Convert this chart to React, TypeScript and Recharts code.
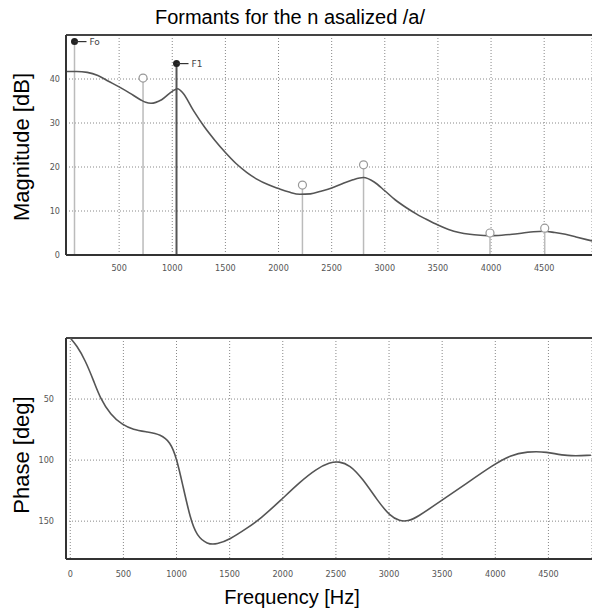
import React from 'react';
import {
  ComposedChart,
  Line,
  Scatter,
  XAxis,
  YAxis,
  CartesianGrid,
  ReferenceLine,
} from 'recharts';

// magnitude response (dB)
const MAG_HZ = [0, 100, 200, 300, 400, 500, 600, 700, 750, 800, 900, 1000, 1050, 1100, 1200, 1300, 1400, 1500, 1600, 1700, 1800, 1900, 2000, 2100, 2200, 2300, 2400, 2500, 2600, 2700, 2800, 2900, 3000, 3100, 3200, 3300, 3400, 3500, 3600, 3700, 3800, 3900, 4000, 4100, 4200, 4300, 4400, 4500, 4600, 4700, 4800, 4900, 4950];
const MAG_DB = [41.7, 41.7, 41.5, 40.8, 39.5, 38.2, 36.8, 35.3, 34.7, 34.5, 35.3, 37.2, 37.8, 36.8, 32.8, 29.2, 26.1, 23.3, 20.8, 18.8, 17.2, 16, 15.1, 14.3, 13.8, 13.9, 14.5, 15.2, 16.2, 17.1, 17.6, 16.6, 14.6, 12.5, 10.8, 9.3, 8, 6.8, 5.8, 5.1, 4.7, 4.5, 4.4, 4.5, 4.7, 5, 5.3, 5.4, 5.1, 4.7, 4.1, 3.5, 3.2];

// formant stems
const STEM_HZ = [80, 725, 1040, 2225, 2800, 3990, 4505];
const STEM_DB = [48.5, 40.2, 43.5, 15.9, 20.5, 5, 6.1];
const STEM_NAME = ['Fo', '', 'F1', '', '', '', ''];

// phase response (deg, drawn downwards)
const PH_HZ = [0, 60, 140, 220, 280, 380, 490, 590, 730, 850, 940, 1000, 1060, 1130, 1190, 1290, 1380, 1500, 1660, 1790, 1980, 2160, 2320, 2440, 2530, 2630, 2750, 2890, 3010, 3100, 3180, 3260, 3480, 3730, 3980, 4140, 4300, 4480, 4670, 4900];
const PH_DEG = [0, 6, 18, 35, 49, 63, 71, 75, 77, 79, 85, 98, 121, 148, 162, 169, 169, 165, 156, 148, 133, 118, 107, 102, 101, 104, 115, 133, 146, 150, 150, 147, 134, 119, 104, 96, 93, 93, 97, 96];

const MAG_X_TICKS = [500, 1000, 1500, 2000, 2500, 3000, 3500, 4000, 4500];
const MAG_Y_TICKS = [0, 10, 20, 30, 40];
const PH_X_TICKS = [0, 500, 1000, 1500, 2000, 2500, 3000, 3500, 4000, 4500];
const PH_Y_TICKS = [50, 100, 150];

const magData = MAG_HZ.map((hz, i) => ({ hz, db: MAG_DB[i] }));
const stemData = STEM_HZ.map((hz, i) => ({ hz, db: STEM_DB[i], name: STEM_NAME[i] }));
const phData = PH_HZ.map((hz, i) => ({ hz, deg: PH_DEG[i] }));

const tickStyle = { fontSize: 9, fill: '#555', fontFamily: '"DejaVu Sans Condensed", "DejaVu Sans", sans-serif' };
const bigText = { fontFamily: '"Liberation Sans", Arial, sans-serif', color: '#000' };

const StemHead = (props: any) => {
  const { cx, cy, payload } = props;
  if (payload.name) {
    return (
      <g>
        <circle cx={cx} cy={cy} r={3.5} fill="#222" />
        <line x1={cx} y1={cy} x2={cx + 12} y2={cy} stroke="#333" strokeWidth={1.2} />
        <text x={cx + 15} y={cy + 3} fontSize={9} fill="#444" fontFamily="DejaVu Sans, sans-serif">
          {payload.name}
        </text>
      </g>
    );
  }
  return <circle cx={cx} cy={cy} r={4} fill="#fff" stroke="#999" strokeWidth={1.2} />;
};

export default function App() {
  return (
    <div style={{ position: 'relative', width: 592, height: 616, background: '#fff', overflow: 'hidden' }}>
      <style>{'body{margin:0}'}</style>
      <div style={{ ...bigText, position: 'absolute', top: 5, left: 0, width: 580, textAlign: 'center', fontSize: 20, lineHeight: '24px' }}>
        Formants for the n asalized /a/
      </div>
      <div style={{ ...bigText, position: 'absolute', left: 22, top: 147, fontSize: 22, whiteSpace: 'nowrap', transform: 'translate(-50%, -50%) rotate(-90deg)' }}>
        Magnitude [dB]
      </div>
      <div style={{ ...bigText, position: 'absolute', left: 22, top: 455, fontSize: 22, whiteSpace: 'nowrap', transform: 'translate(-50%, -50%) rotate(-90deg)' }}>
        Phase [deg]
      </div>
      <div style={{ ...bigText, position: 'absolute', top: 585, left: 0, width: 584, textAlign: 'center', fontSize: 20, lineHeight: '24px' }}>
        Frequency [Hz]
      </div>

      <div style={{ position: 'absolute', left: 0, top: 0 }}>
        <ComposedChart width={592} height={300} data={magData} margin={{ top: 35, right: 0, bottom: 15, left: 26 }}>
          <CartesianGrid stroke="#888" strokeDasharray="1 2" />
          <XAxis
            dataKey="hz"
            type="number"
            domain={[0, 4950]}
            allowDataOverflow
            ticks={MAG_X_TICKS}
            tick={tickStyle}
            tickLine={false}
            tickMargin={4}
            height={30}
            axisLine={{ stroke: '#333', strokeWidth: 2 }}
          />
          <YAxis
            type="number"
            domain={[0, 50]}
            allowDataOverflow
            ticks={MAG_Y_TICKS}
            tick={tickStyle}
            tickLine={false}
            tickMargin={0}
            width={40}
            axisLine={{ stroke: '#333', strokeWidth: 2 }}
          />
          <ReferenceLine y={50} stroke="#444" strokeWidth={2} />
          {stemData.map((s) => (
            <ReferenceLine
              key={s.hz}
              segment={[{ x: s.hz, y: 0 }, { x: s.hz, y: s.db }]}
              stroke={s.name === 'F1' ? '#555' : '#bbb'}
              strokeWidth={s.name === 'F1' ? 2 : 1.5}
            />
          ))}
          <Line dataKey="db" type="monotone" stroke="#555" strokeWidth={1.6} dot={false} isAnimationActive={false} />
          <Scatter data={stemData} dataKey="db" shape={StemHead} isAnimationActive={false} />
        </ComposedChart>
      </div>

      <div style={{ position: 'absolute', left: 0, top: 300 }}>
        <ComposedChart width={592} height={316} data={phData} margin={{ top: 38, right: 0, bottom: 27, left: 26 }}>
          <CartesianGrid stroke="#888" strokeDasharray="1 2" />
          <XAxis
            dataKey="hz"
            type="number"
            domain={[-40, 4910]}
            allowDataOverflow
            ticks={PH_X_TICKS}
            tick={tickStyle}
            tickLine={false}
            tickMargin={6}
            height={30}
            axisLine={{ stroke: '#333', strokeWidth: 2 }}
          />
          <YAxis
            type="number"
            domain={[0, 181]}
            reversed
            allowDataOverflow
            ticks={PH_Y_TICKS}
            tick={tickStyle}
            tickLine={false}
            tickMargin={6}
            width={40}
            axisLine={{ stroke: '#333', strokeWidth: 2 }}
          />
          <ReferenceLine y={0} stroke="#444" strokeWidth={2} />
          <Line dataKey="deg" type="basis" stroke="#555" strokeWidth={1.6} dot={false} isAnimationActive={false} />
        </ComposedChart>
      </div>
    </div>
  );
}
